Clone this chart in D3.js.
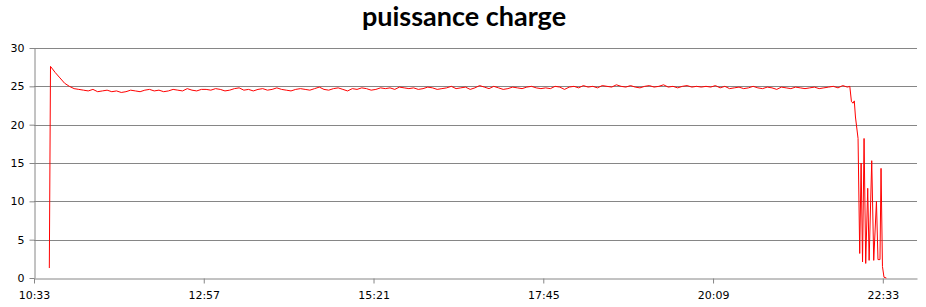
<!DOCTYPE html>
<html>
<head>
<meta charset="utf-8">
<script src="https://cdn.jsdelivr.net/npm/d3@7"></script>
<style>
  html, body { margin: 0; padding: 0; background: #fff; }
  svg { display: block; }
  .axis text { font-family: "DejaVu Sans", Verdana, sans-serif; font-size: 11px; fill: #000; }
  .axis path, .axis line { stroke: #868686; }
</style>
</head>
<body>
<svg id="chart" width="926" height="307"></svg>
<script>
// series: power on charge, one reading every 4 minutes on the plateau
var title = "puissance charge";
var yTicks = [0, 5, 10, 15, 20, 25, 30];
var xTickLabels = ["10:33", "12:57", "15:21", "17:45", "20:09", "22:33"];
var axisStart = "10:33";
var axisEnd = "23:02";

var headPoints = [["10:46:00", 1.3]];

var plateauStart = "10:47:00";
var plateauStep = 4; // minutes
var plateauValues = [
  27.6, 26.8, 26.1, 25.4, 25.0, 24.7, 24.6,
  24.5, 24.4, 24.6, 24.3, 24.4, 24.5, 24.3, 24.4, 24.2, 24.3, 24.5, 24.4, 24.3,
  24.5, 24.6, 24.4, 24.5, 24.3, 24.4, 24.6, 24.5, 24.4, 24.7, 24.5, 24.4, 24.6,
  24.6, 24.5, 24.7, 24.6, 24.4, 24.5, 24.7, 24.8, 24.5, 24.6, 24.4, 24.6, 24.7,
  24.5, 24.6, 24.8, 24.6, 24.5, 24.4, 24.6, 24.7, 24.6, 24.5, 24.7, 24.9, 24.6,
  24.5, 24.7, 24.8, 24.6, 24.4, 24.7, 24.6, 24.8, 24.7, 24.5, 24.6, 24.8,
  24.7, 24.8, 24.6, 24.9, 24.8, 24.7, 24.8, 24.6, 24.7, 24.9, 24.8, 24.6, 24.7,
  24.8, 25.0, 24.7, 24.8, 24.9, 24.6, 24.8, 25.1, 24.9, 24.7, 25.0, 24.8, 24.6,
  24.7, 24.9, 24.8, 24.7, 24.9, 25.0, 24.8, 24.7,
  24.8, 24.7, 25.0, 24.9, 24.6, 24.9, 25.0, 24.8, 25.1, 24.9, 25.0, 24.8, 25.1,
  25.0, 24.9, 25.2, 25.0, 24.9, 25.1, 24.9, 24.8, 25.0, 25.1, 24.9, 25.0, 25.2,
  24.9, 25.0, 24.8, 25.0, 25.1, 24.9, 25.0, 24.9,
  25.0, 24.9, 25.1, 24.8, 25.0, 24.7, 24.8, 24.9, 24.7, 24.8, 25.0, 24.8, 24.7,
  24.9, 24.8, 24.6, 24.9, 24.8, 24.7, 24.9, 24.8, 24.7, 24.8, 24.9, 24.7, 24.8,
  24.9, 25.0, 24.8, 25.1, 24.9
];

// end of charge, irregular readings
var tailPoints = [
  ["22:05:00", 25.0], ["22:06:24", 23.0], ["22:07:48", 22.8], ["22:08:48", 23.1],
  ["22:09:48", 21.0], ["22:12:00", 18.2], ["22:13:24", 3.2], ["22:14:36", 15.0],
  ["22:15:48", 2.1], ["22:17:06", 18.2], ["22:18:30", 1.9], ["22:20:12", 11.7],
  ["22:21:24", 2.3], ["22:23:36", 15.3], ["22:25:18", 2.3], ["22:27:36", 10.0],
  ["22:28:54", 2.4], ["22:30:36", 2.4], ["22:31:30", 14.3], ["22:32:42", 1.5],
  ["22:34:00", 0.1], ["22:36:00", 0.0]
];

var parseHMS = d3.timeParse("%H:%M:%S");
var parseHM = d3.timeParse("%H:%M");

var data = [];
headPoints.forEach(function (p) { data.push({ t: parseHMS(p[0]), v: p[1] }); });
var t0 = parseHMS(plateauStart);
plateauValues.forEach(function (v, i) {
  data.push({ t: d3.timeMinute.offset(t0, i * plateauStep), v: v });
});
tailPoints.forEach(function (p) { data.push({ t: parseHMS(p[0]), v: p[1] }); });

var svg = d3.select("#chart");
var margin = { top: 48, right: 9, bottom: 29, left: 34 };
var width = 926 - margin.left - margin.right;
var height = 307 - margin.top - margin.bottom;

var x = d3.scaleTime()
  .domain([parseHM(axisStart), parseHM(axisEnd)])
  .range([0, width]);
var y = d3.scaleLinear().domain([0, 30]).range([height, 0]);

var g = svg.append("g").attr("transform", "translate(" + margin.left + "," + margin.top + ")");

// title
svg.append("text")
  .attr("x", 464)
  .attr("y", 26)
  .attr("text-anchor", "middle")
  .style("font-family", "Lato, sans-serif")
  .style("font-weight", "bold")
  .style("font-size", "27px")
  .text(title);

// horizontal gridlines
g.append("g").selectAll("line")
  .data(yTicks.slice(1))
  .enter().append("line")
  .attr("x1", 0).attr("x2", width)
  .attr("y1", function (d) { return Math.round(y(d)) + 0.5; })
  .attr("y2", function (d) { return Math.round(y(d)) + 0.5; })
  .style("stroke", "#868686");

var yAxis = g.append("g").attr("class", "axis")
  .attr("transform", "translate(0.5,0)")
  .call(d3.axisLeft(y).tickValues(yTicks).tickSize(5).tickPadding(5).tickSizeOuter(0));

var xAxis = g.append("g").attr("class", "axis")
  .attr("transform", "translate(0," + (height + 0.5) + ")")
  .call(d3.axisBottom(x)
    .tickValues(xTickLabels.map(parseHM))
    .tickFormat(d3.timeFormat("%H:%M"))
    .tickSize(5).tickPadding(8).tickSizeOuter(0));

// line
var line = d3.line()
  .x(function (d) { return x(d.t); })
  .y(function (d) { return y(d.v); });

g.append("path")
  .datum(data)
  .attr("d", line)
  .attr("fill", "none")
  .style("stroke", "#ff0000")
  .style("stroke-width", 1);
</script>
</body>
</html>
